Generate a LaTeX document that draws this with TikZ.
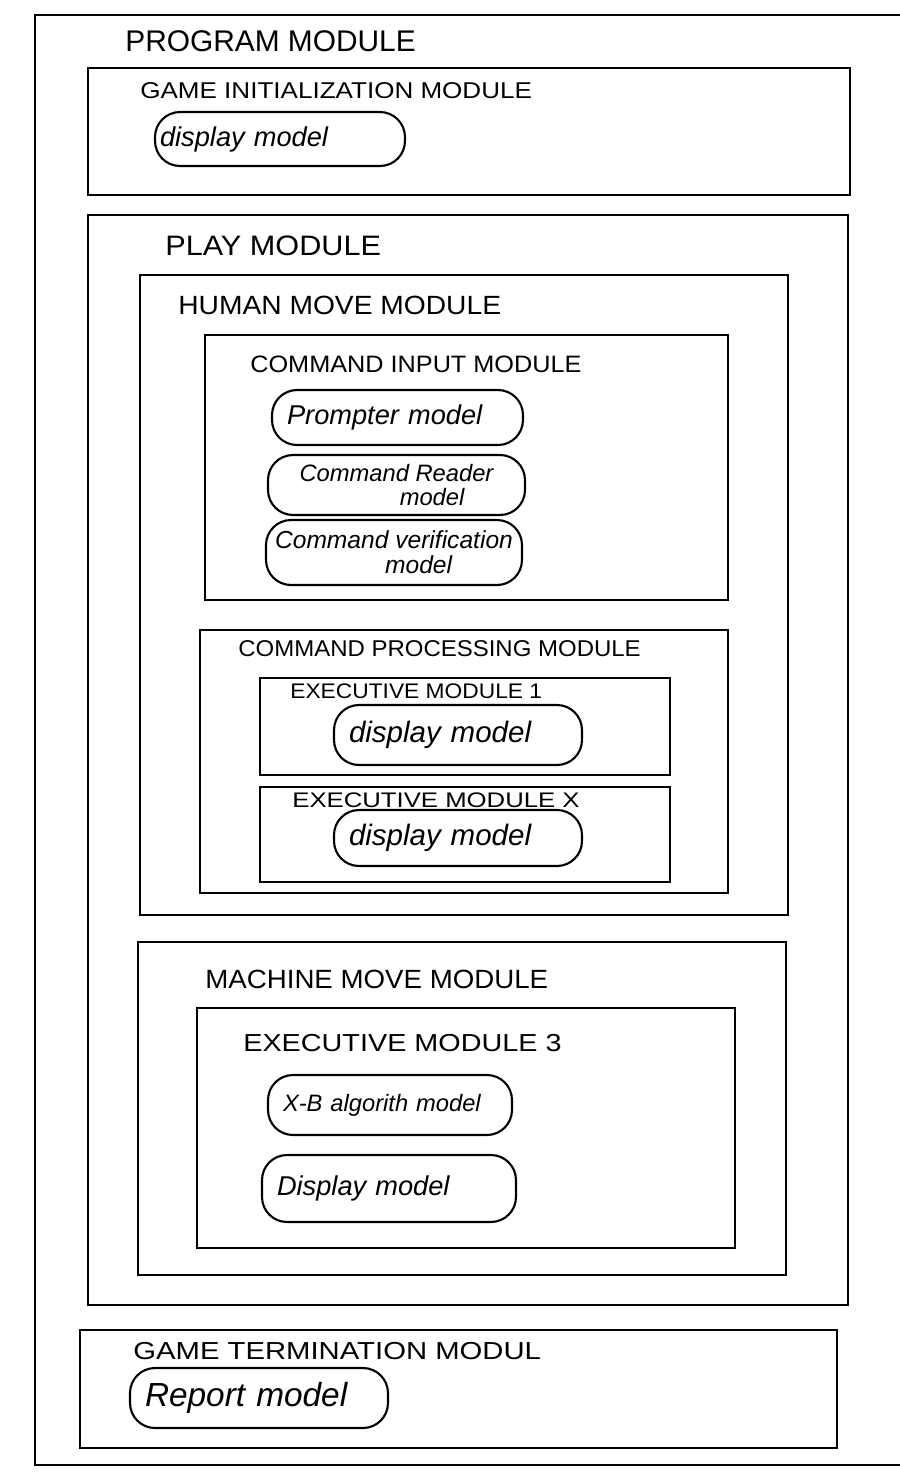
\documentclass[tikz,border=0pt]{standalone}
\usepackage{fontspec}
\setmainfont{Liberation Sans}
\usetikzlibrary{positioning}
\newcommand{\fs}[1]{\fontsize{#1}{#1}\selectfont}
\newcommand{\wide}[2]{\scalebox{#1}[1]{#2}}
\tikzset{
  modbox/.style={draw=black, line width=1.2pt, rectangle, inner sep=0pt},
  pill/.style={draw=black, line width=1.2pt, rectangle, rounded corners=0.5cm, inner xsep=0.3cm, inner ysep=2pt, font=\itshape, align=left},
  modlabel/.style={anchor=west, inner sep=0pt, text=black}
}
\begin{document}
\begin{tikzpicture}[x=0.02cm, y=-0.02cm]
\useasboundingbox[fill=white] (0,0) rectangle (900,1472);

% boxes
\node[modbox, minimum width=17.5cm, minimum height=29cm] (prog) at (472.5,740) {};
\node[modbox, minimum width=15.24cm, minimum height=2.54cm] (gi) at (469,131.5) {};
\node[modbox, minimum width=15.2cm, minimum height=21.8cm] (play) at (468,760) {};
\node[modbox, minimum width=12.96cm, minimum height=12.8cm] (human) at (464,595) {};
\node[modbox, minimum width=10.46cm, minimum height=5.3cm] (cin) at (466.5,467.5) {};
\node[modbox, minimum width=10.56cm, minimum height=5.26cm] (cproc) at (464,761.5) {};
\node[modbox, minimum width=8.2cm, minimum height=1.94cm] (exone) at (465,726.5) {};
\node[modbox, minimum width=8.2cm, minimum height=1.9cm] (exx) at (465,834.5) {};
\node[modbox, minimum width=12.96cm, minimum height=6.66cm] (machine) at (462,1108.5) {};
\node[modbox, minimum width=10.76cm, minimum height=4.8cm] (exthree) at (466,1128) {};
\node[modbox, minimum width=15.14cm, minimum height=2.36cm] (gt) at (458.5,1389) {};

% labels
\node[modlabel, font=\fs{17}] (lprog) at (125,41) {PROGRAM MODULE};
\node[modlabel, font=\fs{13}] (lgi) at (140,91) {\wide{1.14}{GAME INITIALIZATION MODULE}};
\node[modlabel, font=\fs{16}] (lplay) at (165,246) {\wide{1.09}{PLAY MODULE}};
\node[modlabel, font=\fs{15}] (lhuman) at (178,305) {\wide{1.07}{HUMAN MOVE MODULE}};
\node[modlabel, font=\fs{13.5}] (lcin) at (250,364) {\wide{1.065}{COMMAND INPUT MODULE}};
\node[modlabel, font=\fs{13}] (lcproc) at (238,649) {\wide{1.05}{COMMAND PROCESSING MODULE}};
\node[modlabel, font=\fs{12}] (lexone) at (290,691) {\wide{1.08}{EXECUTIVE MODULE 1}};
\node[modlabel, font=\fs{12}] (lexx) at (292,800) {\wide{1.22}{EXECUTIVE MODULE X}};
\node[modlabel, font=\fs{15}] (lmachine) at (205,979) {\wide{1.05}{MACHINE MOVE MODULE}};
\node[modlabel, font=\fs{14}] (lexthree) at (243,1043) {\wide{1.17}{EXECUTIVE MODULE 3}};
\node[modlabel, font=\fs{14}] (lgt) at (133,1351) {\wide{1.19}{GAME TERMINATION MODUL}};

% pills
\node[pill, text width=4.8cm, minimum height=1.08cm, inner xsep=0.1cm, font=\itshape\fs{15.5}] (gip) at (280,139) {display model};
\node[pill, text width=4.42cm, minimum height=1.1cm, font=\itshape\fs{15.5}] (prompter) at (397.5,417.5) {Prompter model};
\node[pill, align=center, minimum width=5.14cm, minimum height=1.2cm, font=\itshape\fs{13.5}, inner sep=1pt] (reader) at (396.5,485) {Command Reader\\\hspace*{3em}model};
\node[pill, align=center, minimum width=5.12cm, minimum height=1.3cm, font=\itshape\fs{14}, inner sep=1pt] (verif) at (394,552.5) {Command verification\\\hspace*{2em}model};
\node[pill, text width=4.36cm, minimum height=1.2cm, font=\itshape\fs{16.8}] (exonep) at (458,735) {display model};
\node[pill, text width=4.36cm, minimum height=1.12cm, font=\itshape\fs{16.8}] (exxp) at (458,838) {display model};
\node[pill, text width=4.28cm, minimum height=1.2cm, font=\itshape\fs{13.5}] (xb) at (390,1105) {\mbox{X-B algorith model}};
\node[pill, text width=4.48cm, minimum height=1.34cm, font=\itshape\fs{15.5}] (disp) at (389,1188.5) {Display model};
\node[pill, text width=4.56cm, minimum height=1.2cm, font=\itshape\fs{19}] (report) at (259,1398) {Report model};
\end{tikzpicture}
\end{document}
